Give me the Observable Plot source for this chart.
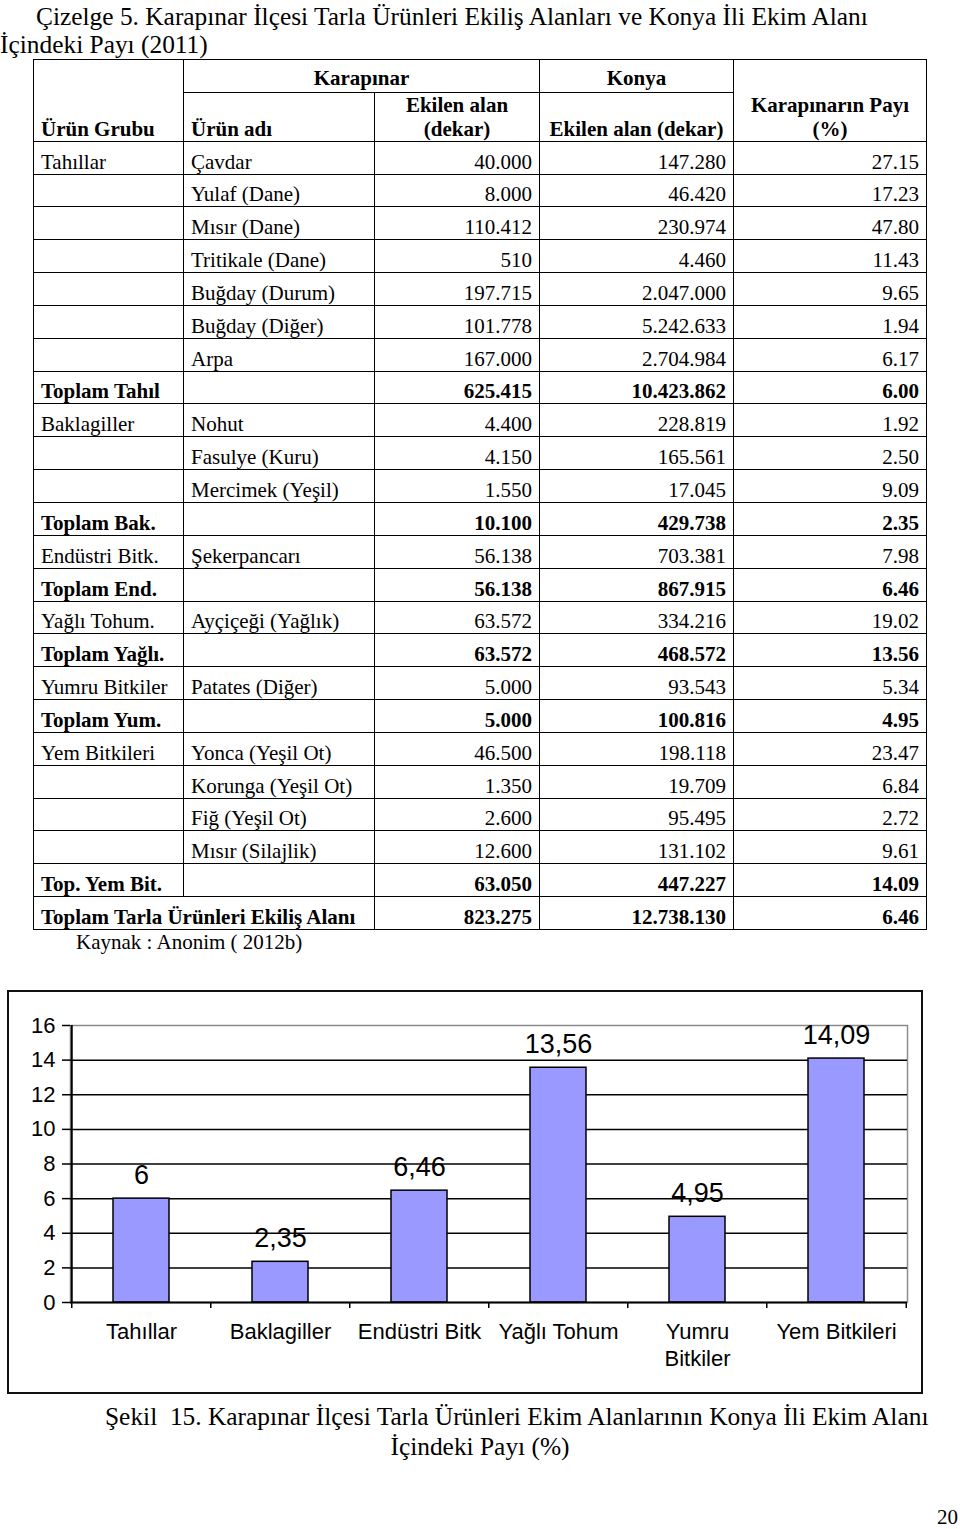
<!DOCTYPE html>
<html>
<head>
<meta charset="utf-8">
<script src="https://cdn.jsdelivr.net/npm/d3@7"></script>
<script src="https://cdn.jsdelivr.net/npm/@observablehq/plot@0.6"></script>
<style>
  html, body { margin: 0; padding: 0; background: #fff; }
  body { position: relative; width: 960px; height: 1529px; overflow: hidden;
         font-family: "Liberation Serif", "Times New Roman", serif; color: #000; }
  .t { position: absolute; white-space: pre; line-height: 28px; }
  table { position: absolute; left: 33px; top: 59px; border-collapse: collapse;
          table-layout: fixed; font-size: 21px; line-height: 24px; }
  td, th { border: 1.5px solid #000; padding: 0 7px; white-space: nowrap; overflow: hidden; }
  th { font-weight: bold; }
  tr.h1 th { height: 29.7px; }
  tr.h2 th { height: 47px; }
  tr.d td { height: 31.85px; vertical-align: bottom; padding-bottom: 0; }
  .l { text-align: left; } .r { text-align: right; } .c { text-align: center; }
  .b { font-weight: bold; }
  #chart { position: absolute; left: 7px; top: 990px; border: 2px solid #111; width: 912px; height: 400px; }
  #chart svg { display: block; }
</style>
</head>
<body>
<div class="t" style="left:36px; top:2px; font-size:25.4px;">Çizelge 5. Karapınar İlçesi Tarla Ürünleri Ekiliş Alanları ve Konya İli Ekim Alanı</div>
<div class="t" style="left:0px; top:30px; font-size:25.4px;">İçindeki Payı (2011)</div>
<table id="tbl">
  <colgroup>
    <col style="width:150px"><col style="width:191px"><col style="width:165px"><col style="width:194px"><col style="width:193px">
  </colgroup>
  <thead>
    <tr class="h1">
      <th rowspan="2" class="l" style="vertical-align:bottom;padding-bottom:0;">Ürün Grubu</th>
      <th colspan="2" class="c" style="vertical-align:bottom;padding-bottom:2px;">Karapınar</th>
      <th class="c" style="vertical-align:bottom;padding-bottom:2px;">Konya</th>
      <th rowspan="2" class="c" style="vertical-align:bottom;padding-bottom:0;">Karapınarın Payı<br>(%)</th>
    </tr>
    <tr class="h2">
      <th class="l" style="vertical-align:bottom;padding-bottom:0;">Ürün adı</th>
      <th class="c" style="vertical-align:bottom;padding-bottom:0;">Ekilen alan<br>(dekar)</th>
      <th class="c" style="vertical-align:bottom;padding-bottom:0;">Ekilen alan (dekar)</th>
    </tr>
  </thead>
  <tbody id="tb"></tbody>
</table>
<div class="t" style="left:76px; top:928px; font-size:21px;">Kaynak : Anonim ( 2012b)</div>
<div id="chart"></div>
<div class="t" style="left:105px; top:1402px; font-size:25.4px;">Şekil  15. Karapınar İlçesi Tarla Ürünleri Ekim Alanlarının Konya İli Ekim Alanı</div>
<div class="t" style="left:0; width:960px; top:1432px; font-size:25.4px; text-align:center;">İçindeki Payı (%)</div>
<div class="t" style="left:937px; top:1503px; font-size:21px;">20</div>
<script>
// ---------- Table data ----------
const groupCol = ["Tahıllar","","","","","","","Toplam Tahıl","Baklagiller","","","Toplam Bak.","Endüstri Bitk.","Toplam End.","Yağlı Tohum.","Toplam Yağlı.","Yumru Bitkiler","Toplam Yum.","Yem Bitkileri","","","","Top. Yem Bit.","Toplam Tarla Ürünleri Ekiliş Alanı"];
const nameCol = ["Çavdar","Yulaf (Dane)","Mısır (Dane)","Tritikale (Dane)","Buğday (Durum)","Buğday (Diğer)","Arpa","","Nohut","Fasulye (Kuru)","Mercimek (Yeşil)","","Şekerpancarı","","Ayçiçeği (Yağlık)","","Patates (Diğer)","","Yonca (Yeşil Ot)","Korunga (Yeşil Ot)","Fiğ (Yeşil Ot)","Mısır (Silajlik)","",null];
const karapinarCol = ["40.000","8.000","110.412","510","197.715","101.778","167.000","625.415","4.400","4.150","1.550","10.100","56.138","56.138","63.572","63.572","5.000","5.000","46.500","1.350","2.600","12.600","63.050","823.275"];
const konyaCol = ["147.280","46.420","230.974","4.460","2.047.000","5.242.633","2.704.984","10.423.862","228.819","165.561","17.045","429.738","703.381","867.915","334.216","468.572","93.543","100.816","198.118","19.709","95.495","131.102","447.227","12.738.130"];
const shareCol = ["27.15","17.23","47.80","11.43","9.65","1.94","6.17","6.00","1.92","2.50","9.09","2.35","7.98","6.46","19.02","13.56","5.34","4.95","23.47","6.84","2.72","9.61","14.09","6.46"];

// ---------- Chart data ----------
const groups = ["Tahıllar","Baklagiller","Endüstri Bitk","Yağlı Tohum","Yumru Bitkiler","Yem Bitkileri"];
const groupTickLabels = ["Tahıllar","Baklagiller","Endüstri Bitk","Yağlı Tohum","Yumru\nBitkiler","Yem Bitkileri"];
const shares = [6.00, 2.35, 6.46, 13.56, 4.95, 14.09];
const yTicks = [0, 2, 4, 6, 8, 10, 12, 14, 16];

// ---------- Build table ----------
const tb = document.getElementById("tb");
groupCol.forEach((g, i) => {
  const tr = document.createElement("tr");
  tr.className = "d";
  const total = nameCol[i] === "" || nameCol[i] === null;
  const cls = total ? " b" : "";
  const c1 = document.createElement("td");
  c1.className = "l" + cls; c1.textContent = g;
  if (nameCol[i] === null) c1.colSpan = 2;
  tr.appendChild(c1);
  if (nameCol[i] !== null) {
    const c2 = document.createElement("td");
    c2.className = "l"; c2.textContent = nameCol[i];
    tr.appendChild(c2);
  }
  [karapinarCol[i], konyaCol[i], shareCol[i]].forEach(v => {
    const c = document.createElement("td");
    c.className = "r" + cls; c.textContent = v;
    tr.appendChild(c);
  });
  tb.appendChild(tr);
});

// ---------- Build chart ----------
const W = 912, H = 400, ml = 61, mr = 14, mt = 33, mb = 90;
const step = (W - ml - mr) / groups.length;
const data = groups.map((g, i) => ({group: g, value: shares[i], tick: groupTickLabels[i]}));
const fmt = v => String(v).replace(".", ",");

const chart = Plot.plot({
  width: W, height: H,
  marginLeft: ml, marginRight: mr, marginTop: mt, marginBottom: mb,
  style: {fontFamily: "'Liberation Sans', Arial, sans-serif", background: "#fff", color: "#000", overflow: "visible"},
  x: {domain: groups, paddingInner: 0.6, paddingOuter: 0.3, label: null},
  y: {domain: [0, 16], label: null},
  marks: [
    Plot.frame({stroke: "#8c8c8c", strokeWidth: 1.5}),
    Plot.gridY(yTicks.filter(v => v > 0 && v < 16), {stroke: "#000", strokeOpacity: 1, strokeWidth: 1.5}),
    Plot.barY(data, {x: "group", y: "value", fill: "#9999FF", stroke: "#000", strokeWidth: 1.5}),
    Plot.text(data, {x: "group", y: "value", text: d => fmt(d.value), dy: -23, fontSize: 27, fill: "#000"}),
    Plot.text(data, {x: "group", y: 0, text: "tick", dy: 17, lineAnchor: "top", lineHeight: 1.23, fontSize: 22, fill: "#000"}),
    Plot.axisY({ticks: yTicks, tickSize: 8, tickPadding: 7, fontSize: 22, stroke: "#000", strokeWidth: 1.5, label: null}),
    Plot.axisX({tickSize: 6, tickFormat: () => "", dx: -step / 2, stroke: "#000", strokeWidth: 1.5, label: null}),
    Plot.axisX({ticks: [groups[groups.length - 1]], tickSize: 6, tickFormat: () => "", dx: step / 2, stroke: "#000", strokeWidth: 1.5, label: null}),
    Plot.ruleX([groups[0]], {dx: -step / 2, y1: 0, y2: 16, stroke: "#000", strokeWidth: 2}),
    Plot.ruleY([0], {stroke: "#000", strokeWidth: 2})
  ]
});
document.getElementById("chart").appendChild(chart);
</script>
</body>
</html>
